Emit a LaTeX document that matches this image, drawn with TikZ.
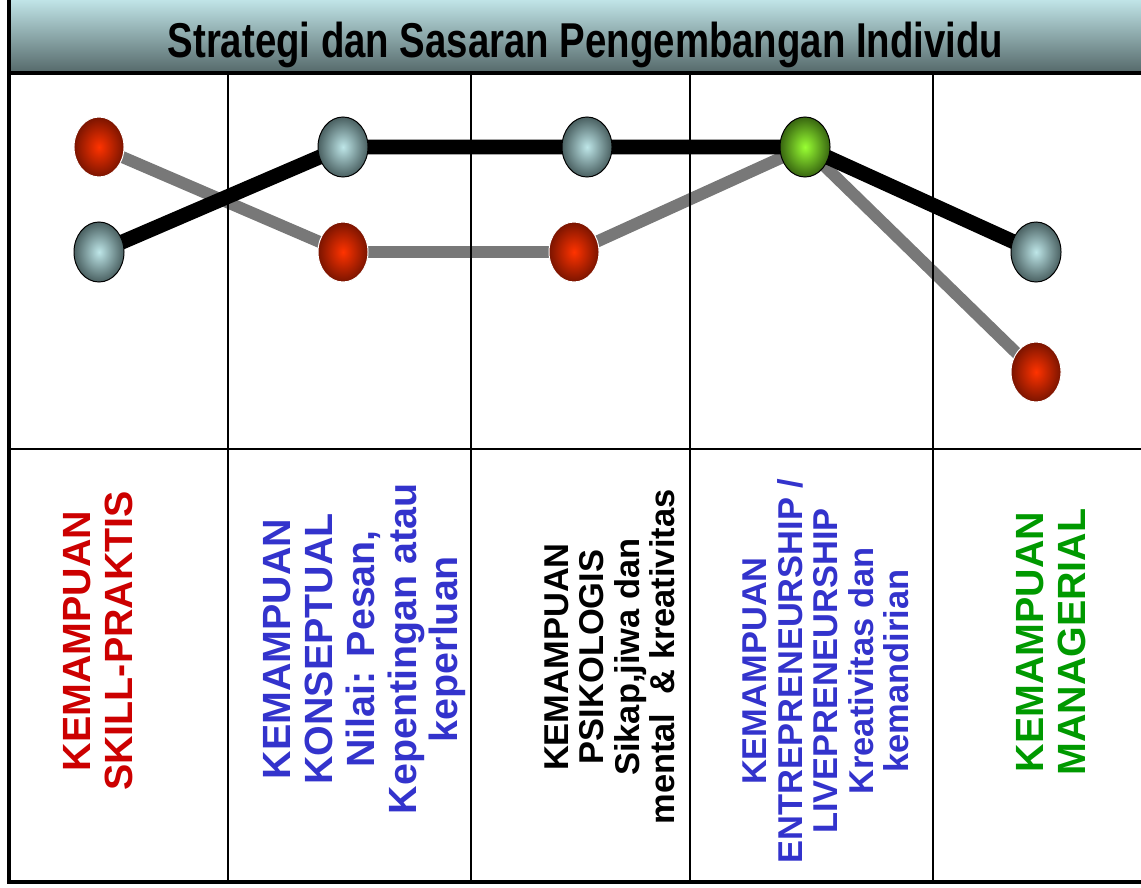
\documentclass[tikz,border=0pt]{standalone}
\usepackage{fontspec}
\setmainfont{Liberation Sans}
\usepackage{tikz}
\usetikzlibrary{shapes.geometric}
\definecolor{myred}{RGB}{204,0,0}
\definecolor{myblue}{RGB}{51,51,204}
\definecolor{mygreen}{RGB}{0,153,0}
\definecolor{bartop}{RGB}{192,228,231}
\definecolor{barbottom}{RGB}{86,106,107}
\definecolor{redin}{RGB}{255,51,0}
\definecolor{redout}{RGB}{122,20,0}
\definecolor{greyin}{RGB}{190,230,232}
\definecolor{greyout}{RGB}{74,96,97}
\definecolor{greenin}{RGB}{153,255,51}
\definecolor{greenout}{RGB}{56,102,16}
\definecolor{linegrey}{RGB}{120,120,120}
\pgfdeclarelayer{background}
\pgfdeclarelayer{foreground}
\pgfsetlayers{background,main,foreground}

\tikzset{
    ball/.style={ellipse, minimum width=1.25cm, minimum height=1.5cm, inner sep=0pt, line width=0.7pt},
    redball/.style={ball, draw=white, inner color=redin, outer color=redout},
    greyball/.style={ball, draw=black, inner color=greyin, outer color=greyout},
    greenball/.style={ball, draw=black, inner color=greenin, outer color=greenout},
    coltext/.style={rotate=90, align=center, inner sep=0pt, font=\bfseries\fontsize{28}{29.7}\selectfont},
    smalltext/.style={coltext, font=\bfseries\fontsize{24.5}{25.2}\selectfont},
}

\begin{document}
\begin{tikzpicture}
    \begin{scope}[x=0.025cm, y=-0.025cm]
        \useasboundingbox (0,0) rectangle (1141,887);

        % Title bar
        \shade[top color=bartop, bottom color=barbottom] (9,0) rectangle (1141,72);
        \node[anchor=base, font=\bfseries\fontsize{34.8}{40}\selectfont] (title) at (585.5,58)
            {\scalebox{0.784}[1]{Strategi dan Sasaran Pengembangan Individu}};

        % The balls
        \begin{pgfonlayer}{foreground}
            \node[redball] (r1) at (99,147) {};
            \node[redball] (r2) at (343,252) {};
            \node[redball] (r3) at (574,252) {};
            \node[redball] (r5) at (1036,372) {};
            \node[greyball] (b1) at (99,252) {};
            \node[greyball] (b2) at (343,147) {};
            \node[greyball] (b3) at (587,147) {};
            \node[greyball] (b5) at (1036,252) {};
            \node[greenball] (g4) at (805,147) {};
        \end{pgfonlayer}

        % Lines joining the balls
        \begin{pgfonlayer}{background}
            \draw[line width=8.5pt, linegrey] (r1.center) -- (r2.center) -- (r3.center) -- (g4.center) -- (r5.center);
            \draw[line width=10.5pt, black] (b1.center) -- (b2.center) -- (b3.center) -- (g4.center) -- (b5.center);
        \end{pgfonlayer}

        % Table frame
        \draw[line width=3.5pt] (9,0) -- (9,882) -- (1141,882);
        \draw[line width=3.5pt] (9,73) -- (1141,73);
        \draw[line width=1.8pt] (9,449) -- (1141,449);
        \foreach \x in {228,471,690,933}
            \draw[line width=1.6pt] (\x,73) -- (\x,882);

        % Column texts
        \node[coltext, text=myred] (skill) at (98,641) {KEMAMPUAN\\SKILL-PRAKTIS};
        \node[coltext, text=myblue] (konsep) at (365,649) {KEMAMPUAN\\KONSEPTUAL\\Nilai: Pesan,\\Kepentingan atau\\keperluan};
        \node[smalltext, text=black] (psiko) at (610,657) {KEMAMPUAN\\PSIKOLOGIS\\Sikap,jiwa dan\\mental\ \ \& kreativitas};
        \node[smalltext, text=myblue] (entre) at (826,671) {KEMAMPUAN\\ENTREPRENEURSHIP /\\LIVEPRENEURSHIP\\Kreativitas dan\\kemandirian};
        \node[coltext, text=mygreen] (manaj) at (1051,642) {KEMAMPUAN\\MANAGERIAL};
    \end{scope}
\end{tikzpicture}
\end{document}
